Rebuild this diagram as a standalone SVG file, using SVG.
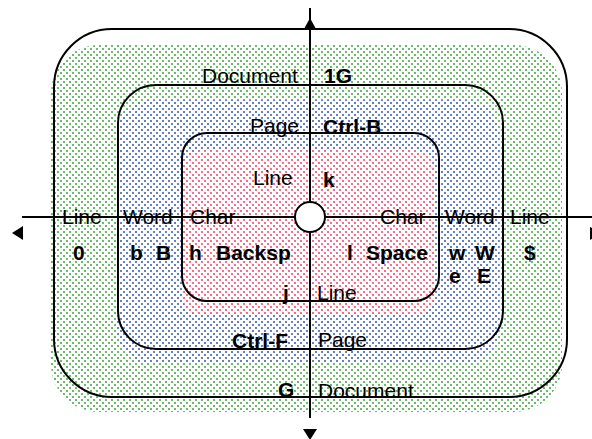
<svg xmlns="http://www.w3.org/2000/svg" width="592" height="439" viewBox="0 0 592 439">
<style>
.t{font-family:"Liberation Sans",Arial,sans-serif;font-size:21px;fill:#000}
.b{font-weight:bold}
.frame{fill:none;stroke:#000;stroke-width:2}
.axis{stroke:#000;stroke-width:2;fill:none}
.head{fill:#000}
</style>
<defs>
<pattern id="pg" width="6" height="6" patternUnits="userSpaceOnUse">
<rect width="6" height="6" fill="#fff"/><rect x="0" y="0" width="2" height="2" fill="#6cbb6c"/><rect x="3" y="3" width="2" height="2" fill="#6cbb6c"/>
</pattern>
<pattern id="pb" width="6" height="6" patternUnits="userSpaceOnUse">
<rect width="6" height="6" fill="#fff"/><rect x="0" y="0" width="2" height="2" fill="#6680c4"/><rect x="3" y="3" width="2" height="2" fill="#6680c4"/>
</pattern>
<pattern id="pr" width="6" height="6" patternUnits="userSpaceOnUse">
<rect width="6" height="6" fill="#fff"/><rect x="0" y="0" width="2" height="2" fill="#f56e8a"/><rect x="3" y="3" width="2" height="2" fill="#f56e8a"/>
</pattern>
</defs>
<rect width="592" height="439" fill="#fff"/>
<g id="document">
<rect x="51" y="45" width="511" height="367" rx="48" fill="url(#pg)"/>
<rect class="frame" x="54" y="29" width="513" height="368" rx="58"/>
</g>
<g id="page">
<rect x="117" y="100" width="382" height="263" rx="34" fill="url(#pb)"/>
<rect class="frame" x="118" y="85" width="385" height="264" rx="38"/>
</g>
<g id="line">
<rect x="182" y="150" width="252" height="165" rx="20" fill="url(#pr)"/>
<rect class="frame" x="182" y="133" width="257" height="168" rx="25"/>
</g>
<g id="connectors">
<line class="axis" x1="22" y1="217" x2="592" y2="217"/>
<line class="axis" x1="310" y1="8" x2="310" y2="418"/>
<polygon class="head" points="310,18 304,29 316,29"/>
<polygon class="head" points="12,233 23,226 23,240"/>
<polygon class="head" points="303,429 317,429 310,440"/>
<polygon class="head" points="590,227 590,240 601,233"/>
</g>
<g id="labels">
<text class="t" x="202" y="83">Document</text>
<text class="t b" x="324" y="83">1G</text>
<text class="t" x="250" y="133">Page</text>
<text class="t b" x="323" y="134">Ctrl-B</text>
<text class="t" x="253" y="185">Line</text>
<text class="t b" x="323" y="187">k</text>
<text class="t" x="62" y="224">Line</text>
<text class="t" x="123" y="224">Word</text>
<text class="t" x="190" y="224">Char</text>
<text class="t" x="380" y="224">Char</text>
<text class="t" x="445" y="224">Word</text>
<text class="t" x="510" y="224">Line</text>
<text class="t b" x="73" y="260">0</text>
<text class="t b" x="130" y="260">b</text>
<text class="t b" x="156" y="260">B</text>
<text class="t b" x="189" y="260">h</text>
<text class="t b" x="216" y="260">Backsp</text>
<text class="t b" x="347" y="260">l</text>
<text class="t b" x="366" y="260">Space</text>
<text class="t b" x="449" y="260">w</text>
<text class="t b" x="475" y="260">W</text>
<text class="t b" x="524" y="260">$</text>
<text class="t b" x="449" y="283">e</text>
<text class="t b" x="477" y="283">E</text>
<text class="t b" x="283" y="300">j</text>
<text class="t" x="317" y="300">Line</text>
<text class="t b" x="232" y="348">Ctrl-F</text>
<text class="t" x="318" y="347">Page</text>
<text class="t b" x="278" y="397">G</text>
<text class="t" x="318" y="398">Document</text>
</g>
<g id="center">
<circle cx="310" cy="217" r="15" fill="#fff" stroke="#000" stroke-width="2"/>
</g>
</svg>
